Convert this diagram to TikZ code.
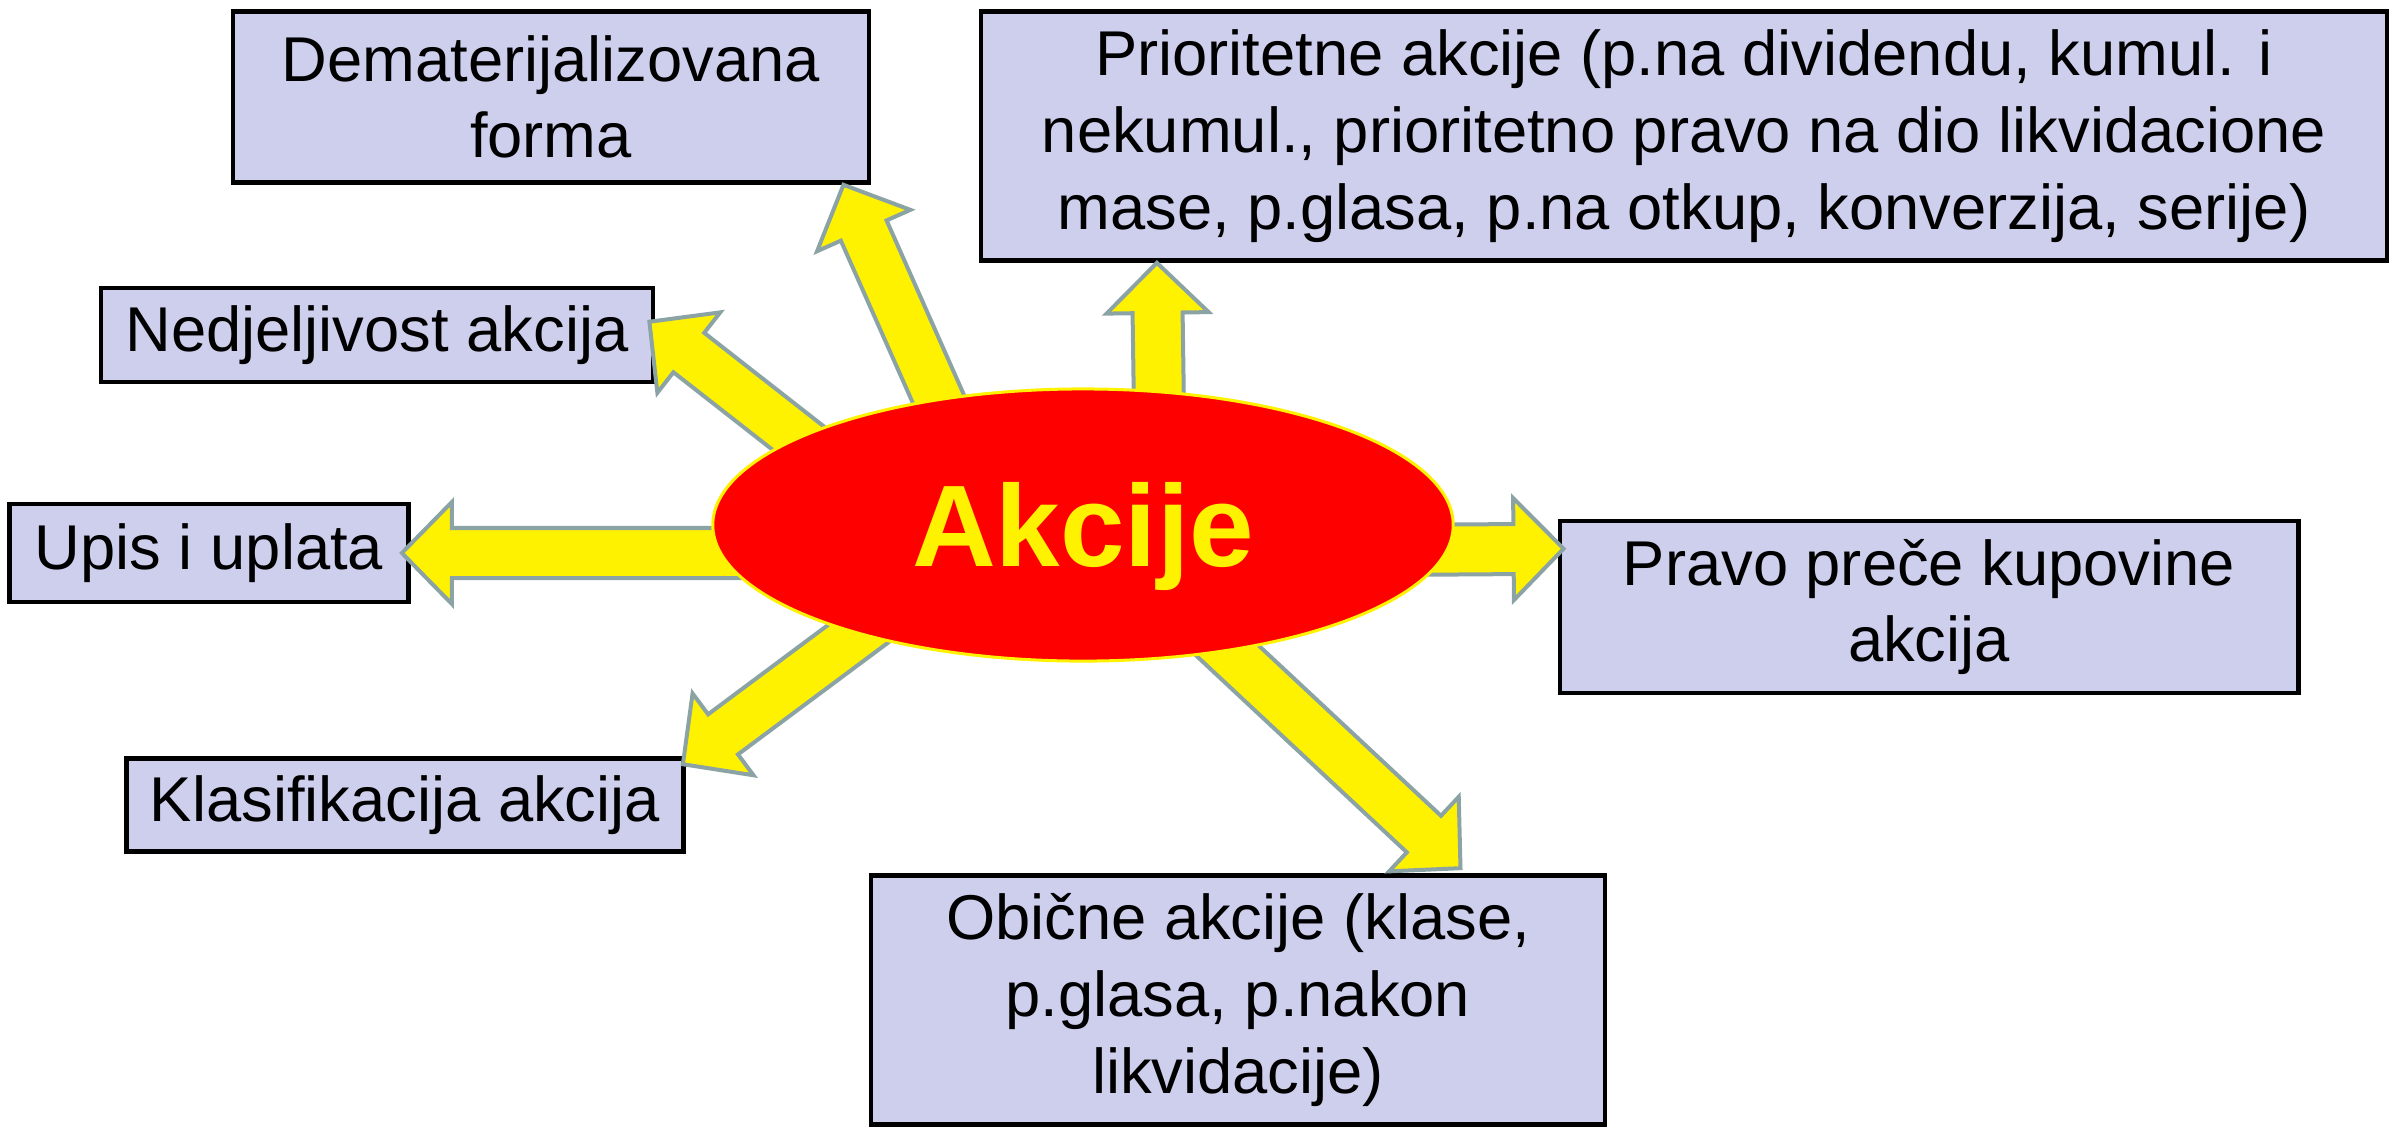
\documentclass[tikz,border=0pt]{standalone}
\usepackage{fontspec}
\setmainfont{Liberation Sans}
\usetikzlibrary{shapes.geometric,calc}
\definecolor{boxfill}{RGB}{206,206,237}
\definecolor{arrowrim}{RGB}{140,163,166}
\begin{document}
\begin{tikzpicture}[x=0.01cm, y=-0.01cm,
	box/.style={draw=black, line width=0.045cm, fill=boxfill, align=center, inner sep=0pt,
		font=\fontsize{18}{21.8}\selectfont},
	fatarrow/.style={fill=yellow, draw=arrowrim, line width=0.04cm, line join=miter}]
		\useasboundingbox (0,0) rectangle (2392,1130);
		% boxes
		\node[box, minimum width=6.36cm, minimum height=1.71cm] (demat) at (551,97) {Dematerijalizovana\\forma};
		\node[box, minimum width=14.05cm, minimum height=2.49cm] (prior) at (1684,136) {Prioritetne akcije (p.na dividendu, kumul. i\\nekumul., prioritetno pravo na dio likvidacione\\mase, p.glasa, p.na otkup, konverzija, serije)};
		\node[box, minimum width=5.52cm, minimum height=0.94cm] (nedj) at (377,335) {Nedjeljivost akcija};
		\node[box, minimum width=3.99cm, minimum height=0.98cm] (upis) at (209,553) {Upis i uplata};
		\node[box, minimum width=7.38cm, minimum height=1.72cm] (pravo) at (1929,607) {Pravo preče kupovine\\akcija};
		\node[box, minimum width=5.57cm, minimum height=0.93cm] (klas) at (405,805) {Klasifikacija akcija};
		\node[box, minimum width=7.34cm, minimum height=2.49cm] (obic) at (1238,1000) {Obične akcije (klase,\\p.glasa, p.nakon\\likvidacije)};
		% arrow tips and starts
		\coordinate (mid) at (1083,525);
		\coordinate (tdemat) at ($(demat.south east)+(-28,0)$);
		\coordinate (tnedj) at ($(nedj.north east)+(-6,36)$);
		\coordinate (tupis) at ($(upis.east)+(-9,0)$);
		\coordinate (tklas) at ($(klas.north east)+(-3,8)$);
		\coordinate (tprior) at ($(prior.south west)+(178,0)$);
		\coordinate (tpravo) at ($(pravo.north west)+(6,30)$);
		\coordinate (tobic) at ($(obic.north east)+(-147,-5)$);
		\coordinate (sdemat) at ($(mid)+(-106,-39)$);
		\coordinate (snedj) at ($(mid)+(-120,42)$);
		\coordinate (supis) at ($(mid)+(-283,28)$);
		\coordinate (sklas) at ($(mid)+(-56,-17)$);
		\coordinate (sprior) at ($(mid)+(77,-45)$);
		\coordinate (spravo) at ($(mid)+(167,26)$);
		\coordinate (sobic) at ($(mid)+(71,57)$);
		\foreach \s/\t in {sdemat/tdemat, snedj/tnedj, supis/tupis, sklas/tklas, sprior/tprior, spravo/tpravo, sobic/tobic}{
			\coordinate (h) at ($(\t)!0.5cm!(\s)$);
			\filldraw[fatarrow] ($(\s)!0.25cm!90:(\t)$) -- ($(h)!0.25cm!90:(\t)$) -- ($(h)!0.51cm!90:(\t)$)
				-- (\t) -- ($(h)!0.51cm!-90:(\t)$) -- ($(h)!0.25cm!-90:(\t)$) -- ($(\s)!0.25cm!-90:(\t)$) -- cycle;
		}
		\node[ellipse, fill=red, draw=yellow, line width=0.03cm, minimum width=7.4cm, minimum height=2.72cm,
			inner sep=0pt, text=yellow, font=\fontsize{33}{36}\selectfont\bfseries,
			text height=23.6pt, text depth=0pt] (akcije) at (mid) {Akcije};
\end{tikzpicture}
\end{document}
